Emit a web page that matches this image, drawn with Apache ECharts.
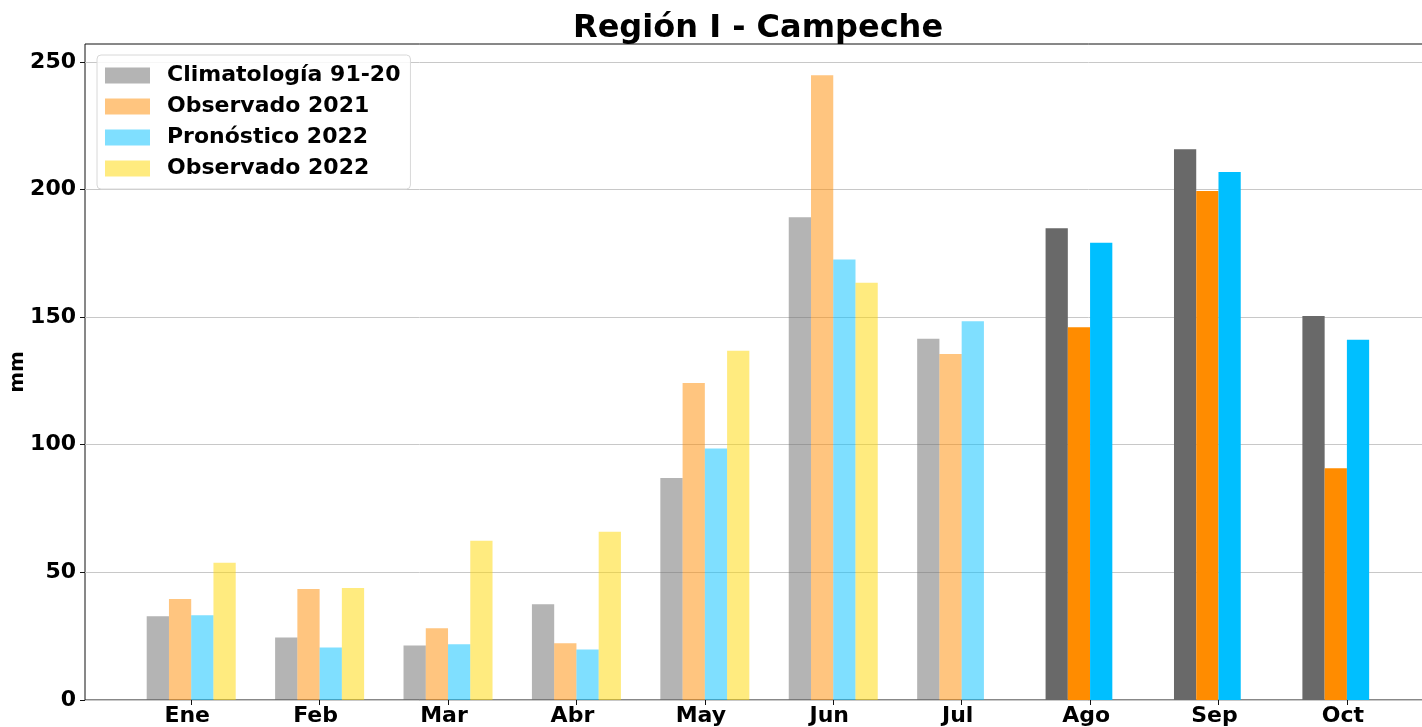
<!DOCTYPE html>
<html>
<head>
<meta charset="utf-8">
<script src="https://cdn.jsdelivr.net/npm/echarts@6/dist/echarts.min.js"></script>
<style>html,body{margin:0;padding:0;background:#fff}#c{width:1422px;height:727px}</style>
</head>
<body>
<div id="c"></div>
<script>
const months = ['Ene','Feb','Mar','Abr','May','Jun','Jul','Ago','Sep','Oct'];
const seriesNames = ['Climatología 91-20','Observado 2021','Pronóstico 2022','Observado 2022'];
const clim     = [32.8, 24.5, 21.4, 37.5, 87.0, 189.1, 141.5, 184.8, 215.8, 150.4];
const obs2021  = [39.6, 43.5, 28.1, 22.2, 124.2, 244.8, 135.6, 146.0, 199.4, 90.8];
const pron2022 = [33.2, 20.6, 21.8, 19.8, 98.5, 172.6, 148.4, 179.1, 206.9, 141.1];
const obs2022  = [53.8, 43.9, 62.4, 65.9, 136.8, 163.5, null, null, null, null];
const yTicks = [0, 50, 100, 150, 200, 250];
const firstSolid = 7; // months from here on drawn with full colour

const fullColors = ['#696969', '#ff8c00', '#00bfff', '#ffd700'];
const alpha = 0.5;
function rgba(hex, a) {
  const n = parseInt(hex.slice(1), 16);
  return 'rgba(' + ((n >> 16) & 255) + ',' + ((n >> 8) & 255) + ',' + (n & 255) + ',' + a + ')';
}
const FONT = 'DejaVu Sans';
const yMax = 257;

const allVals = [clim, obs2021, pron2022, obs2022];
const series = allVals.map((vals, si) => ({
  name: seriesNames[si],
  type: 'bar',
  xAxisIndex: 1,
  yAxisIndex: 1,
  barWidth: 22.25,
  barGap: '0%',
  itemStyle: { color: rgba(fullColors[si], alpha) },
  data: vals.map((v, i) => i >= firstSolid && v != null
    ? { value: v, itemStyle: { color: fullColors[si] } }
    : v),
  silent: true
}));

const chart = echarts.init(document.getElementById('c'), null, { renderer: 'canvas' });
chart.setOption({
  animation: false,
  backgroundColor: '#fff',
  title: {
    text: 'Región I - Campeche',
    left: 568, top: 8,
    textStyle: { fontFamily: FONT, fontWeight: 'bold', fontSize: 32, color: '#000' }
  },
  legend: {
    orient: 'vertical',
    left: 97, top: 55,
    padding: [9, 10, 9, 8],
    icon: 'rect',
    itemWidth: 45, itemHeight: 16, itemGap: 8,
    backgroundColor: 'rgba(255,255,255,0.85)',
    borderColor: '#d8d8d8', borderWidth: 1, borderRadius: 4,
    data: seriesNames,
    textStyle: { fontFamily: FONT, fontWeight: 'bold', fontSize: 22, color: '#000', lineHeight: 23, padding: [0, 0, 0, 12] },
    selectedMode: false
  },
  grid: [
    { left: 85, right: -2, top: 44, bottom: 27, show: true, borderColor: '#111', borderWidth: 1, backgroundColor: 'transparent', containLabel: false, outerBoundsMode: 'none' },
    { left: 127, right: 10.9, top: 44, bottom: 27, containLabel: false, outerBoundsMode: 'none' }
  ],
  xAxis: [
    { gridIndex: 0, type: 'value', min: 0, max: 1, show: false },
    {
      gridIndex: 1, type: 'category', data: months, boundaryGap: true,
      axisLine: { show: false },
      axisTick: { show: true, alignWithLabel: true, length: 5, lineStyle: { color: '#111' } },
      axisLabel: { fontFamily: FONT, fontWeight: 'bold', fontSize: 22, color: '#000', margin: 5, padding: [0, 8, 0, 0] },
      splitLine: { show: false }
    }
  ],
  yAxis: [
    {
      gridIndex: 0, type: 'value', min: 0, max: yMax, interval: 50,
      axisLine: { show: false },
      axisTick: { show: true, length: 5, inside: false, lineStyle: { color: '#111' }, customValues: yTicks },
      axisLabel: { fontFamily: FONT, fontWeight: 'bold', fontSize: 22, color: '#000', margin: 9, customValues: yTicks },
      splitLine: { show: true, lineStyle: { color: '#c8c8c8', width: 1 } },
      name: 'mm', nameLocation: 'middle', nameGap: 57, nameRotate: 90, nameMoveOverlap: false,
      nameTextStyle: { fontFamily: FONT, fontWeight: 'bold', fontSize: 20, color: '#000' }
    },
    { gridIndex: 1, type: 'value', min: 0, max: yMax, show: false, splitLine: { show: false } }
  ],
  series: series
});
</script>
</body>
</html>
